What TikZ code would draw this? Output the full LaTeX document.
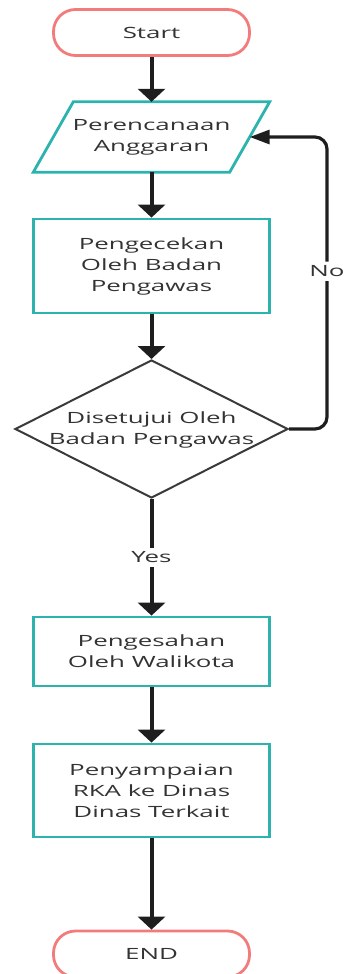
\documentclass[tikz,border=0pt]{standalone}
\usepackage{fontspec}
\setmainfont[FakeStretch=1.67]{Open Sans}
\usetikzlibrary{arrows.meta,shapes.geometric,shapes.misc,calc}
\definecolor{tealc}{HTML}{2DB3AE}
\definecolor{redc}{HTML}{F27C7C}
\definecolor{arrc}{HTML}{1E1E1E}
\definecolor{txtc}{HTML}{333333}
\definecolor{diac}{HTML}{3A3A3A}
\tikzset{
  txt/.style={text=txtc, font=\fontsize{15.5}{21}\selectfont, align=center},
  term/.style={txt, draw=redc, line width=2.8pt, rounded corners=22pt, minimum width=196pt, minimum height=46pt},
  procbox/.style={txt, draw=tealc, line width=2.8pt, minimum width=236pt},
  ioshape/.style={txt, minimum width=196pt, minimum height=70pt},
  iodraw/.style={draw=tealc, line width=2.8pt, line join=miter},
  decision/.style={diamond, draw=diac, line width=2pt, minimum width=273pt, minimum height=138pt, inner sep=0pt},
  arr/.style={draw=arrc, line width=4pt, -{Triangle[width=27pt,length=13pt]}},
  looparr/.style={draw=arrc, line width=3.2pt, rounded corners=12pt, -{Triangle[width=14pt,length=20pt]}},
  lbl/.style={txt, fill=white, inner sep=4pt}
}
\begin{document}
\begin{tikzpicture}[x=1pt,y=-1pt]
\useasboundingbox (0,0) rectangle (343,974);
\node[term] (start) at (151.5,32.5) {Start};
\node[ioshape] (plan) at (151.5,137) {Perencanaan\\Anggaran};
\draw[iodraw] ($(plan.north west)+(20,0)$) -- ($(plan.north east)+(20,0)$) -- ($(plan.south east)+(-20,0)$) -- ($(plan.south west)+(-20,0)$) -- cycle;
\node[procbox, minimum height=94pt] (check) at (151.5,266) {Pengecekan\\Oleh Badan\\Pengawas};
\node[decision] (dec) at (151.5,429) {};
\node[txt] (dectext) at (151.5,430) {Disetujui Oleh\\Badan Pengawas};
\node[procbox, minimum height=69pt] (sah) at (151.5,651.5) {Pengesahan\\Oleh Walikota};
\node[procbox, minimum height=93pt] (kirim) at (151.5,790.5) {Penyampaian\\RKA ke Dinas\\Dinas Terkait};
\node[term] (end) at (151.5,954) {END};
\coordinate (loopA) at (327,429);
\coordinate (loopB) at (327,137);
\draw[arr] (start) -- (plan);
\draw[arr] (plan) -- (check);
\draw[arr] (check) -- (dec);
\draw[arr] (dec) -- node[lbl, pos=0.5] {Yes} (sah);
\draw[arr] (sah) -- (kirim);
\draw[arr] (kirim) -- (end);
\draw[looparr] (dec.east) -- (loopA) -- node[lbl, pos=0.54] {No} (loopB) -- (plan.east);
\end{tikzpicture}
\end{document}
